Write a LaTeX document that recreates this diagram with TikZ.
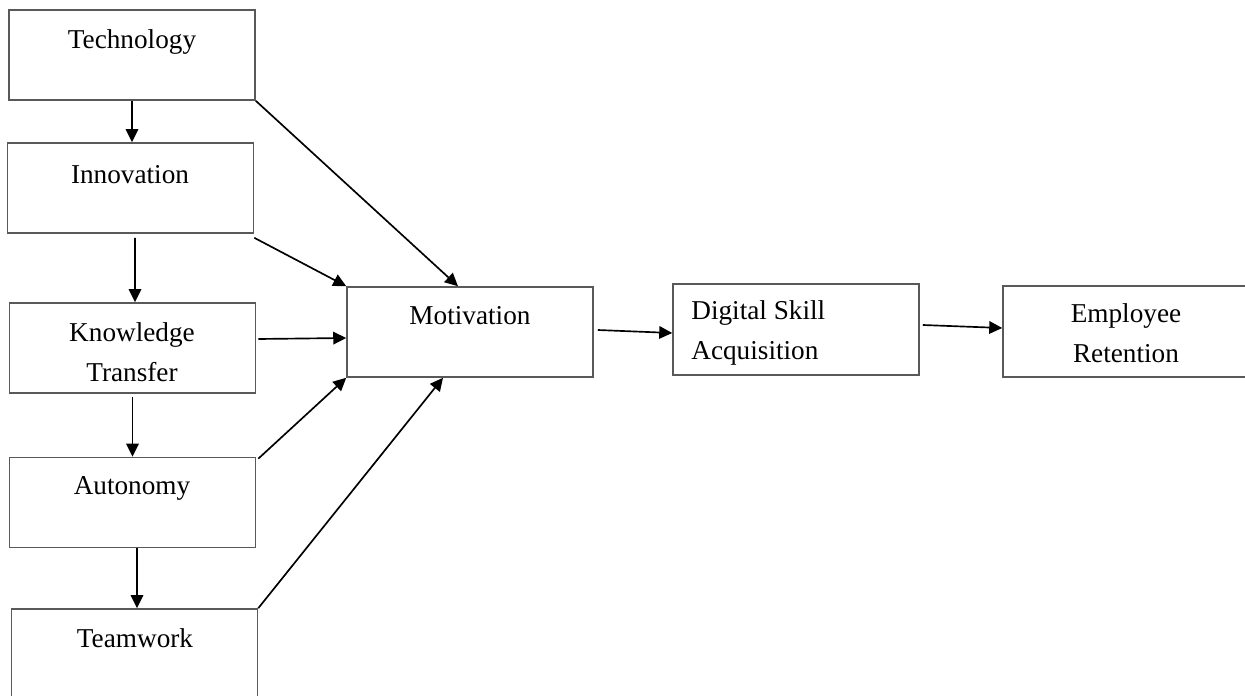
\documentclass[tikz,border=0pt]{standalone}
\usepackage{fontspec}
\setmainfont{Liberation Serif}
\usetikzlibrary{arrows.meta}
\definecolor{box gray}{rgb}{0.35, 0.35, 0.35}

\tikzset{
	box/.style = {draw = box gray, line width = 0.9pt, minimum width = 4.92cm,
		minimum height = 1.8cm, inner sep = 0pt},
	txt/.style = {inner sep = 0pt, align = center,
		font = \fontsize{15.5}{22.7}\selectfont},
	link/.style = {draw, line width = 0.95pt,
		-{Triangle[length = 0.26cm, width = 0.25cm]}}
}

\begin{document}
\begin{tikzpicture}[x = 0.02cm, y = -0.02cm]
			\useasboundingbox (0, 0) rectangle (1245, 696);
			% left column
			\node[box] (tech) at (132, 55) {};
			\node[box] (innov) at (130.5, 188) {};
			\node[box] (know) at (132.5, 348) {};
			\node[box] (auto) at (132.5, 502.5) {};
			\node[box, minimum height = 1.84cm] (team) at (134.5, 655) {};
			\node[txt] (tech-txt) at (132, 42) {Technology};
			\node[txt] (innov-txt) at (130, 175) {Innovation};
			\node[txt] (know-txt) at (132, 352) {Knowledge\\Transfer};
			\node[txt] (auto-txt) at (132, 488) {Autonomy};
			\node[txt] (team-txt) at (135, 638) {Teamwork};
			% right row
			\node[box] (motiv) at (470, 332) {};
			\node[box, minimum height = 1.82cm] (digit) at (796, 329.5) {};
			\node[box, minimum height = 1.82cm] (empl) at (1126, 331.5) {};
			\node[txt] (motiv-txt) at (470, 316) {Motivation};
			\node[txt, anchor = west, align = left] (digit-txt) at (691, 333)
				{Digital Skill\\Acquisition};
			\node[txt] (empl-txt) at (1126, 333) {Employee\\Retention};
			% arrows down the column
			\draw[link] (tech.south) -- (tech.south |- innov.north);
			\draw[link] ([shift = {(4.5, 4)}]innov.south)
				-- ([xshift = 0.09cm]innov.south |- know.north);
			\draw[link] ([yshift = -0.06cm]know.south) -- (auto.north);
			\draw[link] ([xshift = 0.09cm]auto.south)
				-- ([xshift = 0.09cm]auto.south |- team.north);
			% arrows into motivation
			\draw[link] (tech.south east) -- ([xshift = -0.24cm]motiv.north);
			\draw[link] ([yshift = -0.08cm]innov.south east) -- (motiv.north west);
			\draw[link] ([shift = {(2, -9)}]know.east) -- ([yshift = -0.12cm]motiv.west);
			\draw[link] ([shift = {(2, 2)}]auto.north east) -- (motiv.south west);
			\draw[link] (team.north east) -- ([xshift = -0.54cm]motiv.south);
			% arrows to the right
			\draw[link] ([shift = {(4, -2)}]motiv.east) -- ([yshift = -0.07cm]digit.west);
			\draw[link] ([shift = {(3, -4.5)}]digit.east) -- ([yshift = 0.07cm]empl.west);
		\end{tikzpicture}
\end{document}
